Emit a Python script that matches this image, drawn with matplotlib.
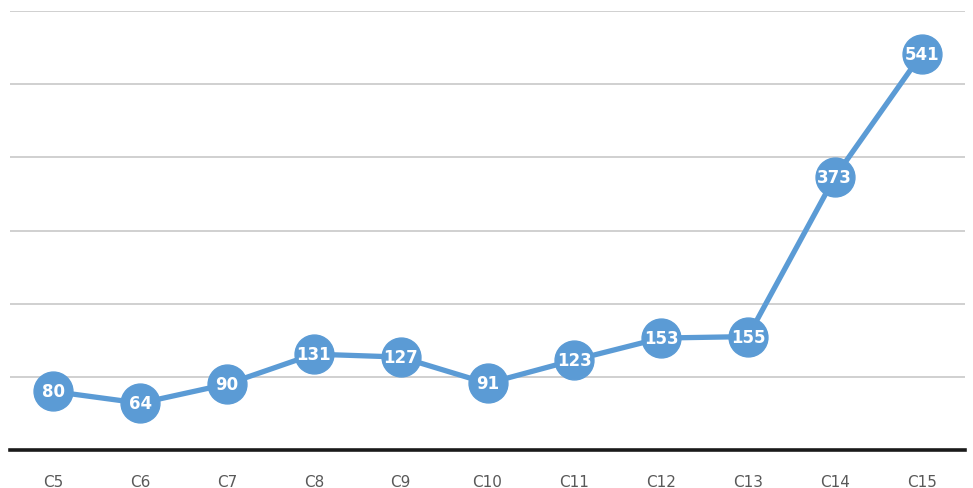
import matplotlib
matplotlib.use("Agg")
import matplotlib.pyplot as plt

categories = ["C5", "C6", "C7", "C8", "C9", "C10", "C11", "C12", "C13", "C14", "C15"]
values = [80, 64, 90, 131, 127, 91, 123, 153, 155, 373, 541]

blue = "#5B9BD5"

fig = plt.figure(figsize=(9.73, 4.89), dpi=100)
ax = fig.add_axes([10 / 973, 38 / 489, 955 / 973, 439 / 489])

x = range(len(categories))
ax.plot(x, values, color=blue, linewidth=3.8, marker="o", markersize=28,
        markerfacecolor=blue, markeredgecolor=blue, zorder=3, clip_on=False)

# value labels sit inside the round markers
for xi, v in zip(x, values):
    ax.text(xi, v, str(v), ha="center", va="center", color="white",
            fontsize=12, fontweight="bold", zorder=4)

ax.set_xlim(-0.5, len(categories) - 0.5)
ax.set_ylim(0, 600)
ax.set_yticks(range(100, 601, 100))
ax.yaxis.grid(True, color="#d0d0d0", linewidth=1.4)
ax.set_axisbelow(True)
ax.tick_params(axis="y", left=False, labelleft=False)

ax.set_xticks(list(x))
ax.set_xticklabels(categories, color="#595959", fontsize=11)
ax.tick_params(axis="x", length=0, pad=17)

for side in ["top", "left", "right"]:
    ax.spines[side].set_visible(False)
ax.spines["bottom"].set_color("#1a1a1a")
ax.spines["bottom"].set_linewidth(2.6)

fig.savefig("out.png", dpi=100, facecolor="white")
